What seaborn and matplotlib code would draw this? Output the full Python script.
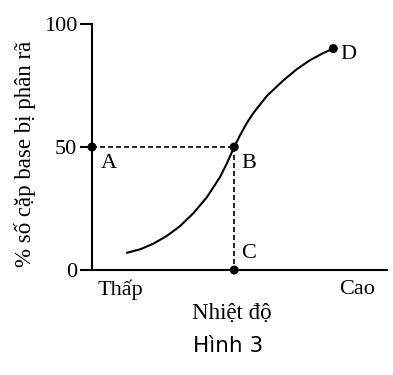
import matplotlib
matplotlib.use('Agg')
import matplotlib.pyplot as plt
import seaborn as sns
import pandas as pd

# curve (x = temperature, arbitrary units 0-10; y = % of base pairs denatured)
temp = [1.18, 1.63, 2.08, 2.53, 2.98, 3.43, 3.89, 4.34, 4.57, 4.82, 5.02,
        5.24, 5.47, 5.93, 6.48, 6.94, 7.39, 7.84, 8.18]
pct = [7.0, 8.4, 10.7, 13.8, 17.8, 23.0, 29.5, 37.8, 43.3, 50.0, 54.8,
       59.6, 63.8, 70.8, 77.0, 81.6, 85.3, 88.2, 90.0]

# marked points
point_names = ['A', 'B', 'C', 'D']
point_x = [0, 4.82, 4.82, 8.18]
point_y = [50, 50, 0, 90]
label_offsets = [(6.5, -15), (5, -15), (5, 8.5), (5, -7.5)]

y_ticks = [0, 50, 100]
x_tick_pos = [0.95, 9.0]
x_tick_labels = ['Thấp', 'Cao']

sns.set_theme(style='white')
plt.rcParams['font.family'] = ['Liberation Serif', 'DejaVu Serif']
plt.rcParams['text.color'] = 'black'
plt.rcParams['axes.labelcolor'] = 'black'
plt.rcParams['xtick.color'] = 'black'
plt.rcParams['ytick.color'] = 'black'

df = pd.DataFrame({'temp': temp, 'pct': pct})
pts = pd.DataFrame({'x': point_x, 'y': point_y, 'name': point_names})

fig = plt.figure(figsize=(3.93, 3.75), dpi=100)
ax = fig.add_axes([92 / 393, 1 - 270 / 375, 295 / 393, 246 / 375])

sns.lineplot(data=df, x='temp', y='pct', color='black', linewidth=1.5, ax=ax, sort=False)

# dashed guides A-B and B-C
ax.plot([point_x[0], point_x[1]], [point_y[0], point_y[1]], color='black',
        linewidth=1.2, linestyle=(0, (3, 1.8)))
ax.plot([point_x[1], point_x[2]], [point_y[1], point_y[2]], color='black',
        linewidth=1.2, linestyle=(0, (3, 1.8)))

sns.scatterplot(data=pts, x='x', y='y', color='black', s=42, edgecolor='none',
                ax=ax, clip_on=False, zorder=5)
for name, x, y, off in zip(point_names, point_x, point_y, label_offsets):
    ax.annotate(name, (x, y), xytext=off, textcoords='offset points',
                ha='left', va='baseline', fontsize=16, color='black')

ax.set_xlim(0, 10)
ax.set_ylim(0, 100)
ax.set_yticks(y_ticks)
ax.set_xticks(x_tick_pos)
ax.set_xticklabels(x_tick_labels)
ax.tick_params(axis='y', length=8.6, width=1.5, pad=2, labelsize=16, colors='black', left=True)
ax.tick_params(axis='x', length=0, pad=7, labelsize=16, colors='black')

sns.despine(ax=ax)
for s in ['left', 'bottom']:
    ax.spines[s].set_linewidth(1.5)
    ax.spines[s].set_color('black')

ax.set_xlabel('Nhiệt độ', fontsize=16.5, color='black')
ax.xaxis.set_label_coords((232 - 92) / 295, (270 - 319) / 246)
ax.xaxis.label.set_va('baseline')
ax.set_ylabel('% số cặp base bị phân rã', fontsize=16.5, color='black')
ax.yaxis.set_label_coords((25 - 92) / 295, (270 - 154) / 246)
ax.yaxis.label.set_va('center')

fig.text(228 / 393, 1 - 352 / 375, 'Hình 3', family=['DejaVu Sans'], fontsize=15.5,
         ha='center', va='baseline', color='black')

fig.savefig('out.png', dpi=100, facecolor='white')
